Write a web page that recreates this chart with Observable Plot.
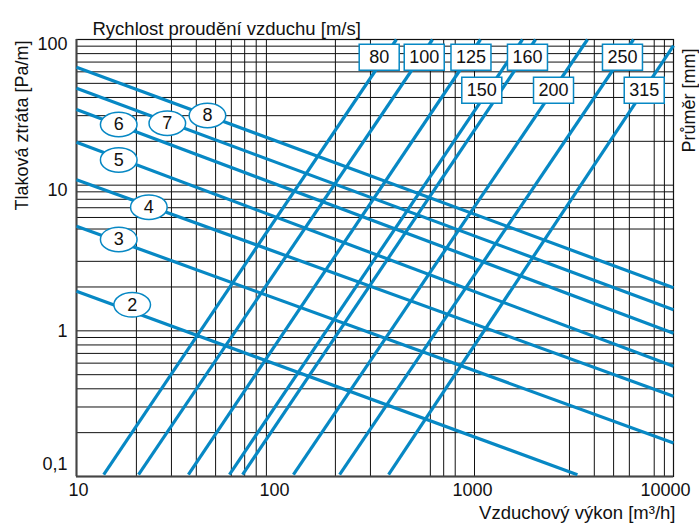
<!DOCTYPE html>
<html><head><meta charset="utf-8">
<script src="https://cdn.jsdelivr.net/npm/d3@7"></script>
<script src="https://cdn.jsdelivr.net/npm/@observablehq/plot@0.6"></script>
<style>html,body{margin:0;padding:0;background:#fff;}</style>
</head><body><div id="chart"></div>
<script>
// ---- data ----
const xGridValues = [20,30,40,50,60,70,80,90,200,300,600,700,800,1000,3000,4000,5000,6000,8000,9000];
const yGridValues = [0.2,0.3,0.4,0.5,0.6,0.7,0.8,0.9,1,2,3,5,6,7,8,9,10,20,30,40,50,60,70,80,90];
const xTickValues = [10,100,1000,10000];
const xTickLabels = ["10","100","1000","10000"];
const yTickValues = [100,10,1,0.1];
const yTickLabels = ["100","10","1","0,1"];

// duct diameter lines [mm]: start/end points (airflow m3/h, pressure loss Pa/m)
const diameters = [80,100,125,150,160,200,250,315];
const diaQ1 = [13.7,20.5,36.5,58.7,68.3,123,210,370];
const diaP1 = [0.103,0.103,0.103,0.103,0.103,0.103,0.103,0.103];
const diaQ2 = [405,615,1072,1742,2026,3697,6295,10000];
const diaP2 = [100,100,100,100,100,100,100,90.9];
const diaLabelQ = [332,559,960,1088,1846,2495,5541,7127];
const diaLabelP = [75.6,75.6,75.6,44.9,75.6,44.9,75.6,44.9];

// air velocity lines [m/s]
const velocities = [2,3,4,5,6,7,8];
const velQ1 = [10,10,10,10,10,10,10];
const velP1 = [1.87,5.23,10.9,19.7,33.1,46.3,64.5];
const velQ2 = [3290,10000,10000,10000,10000,10000,10000];
const velP2 = [0.103,0.170,0.356,0.572,0.963,1.394,1.974];
const velLabelQ = [19.05,16.3,23.1,16.3,16.3,28.6,45.5];
const velLabelP = [1.509,4.24,7.06,14.9,26.1,26.6,30.1];

// ---- tables ----
const diaRows = diameters.map((d,i)=>({d, q1:diaQ1[i], p1:diaP1[i], q2:diaQ2[i], p2:diaP2[i], lq:diaLabelQ[i], lp:diaLabelP[i]}));
const velRows = velocities.map((v,i)=>({v, q1:velQ1[i], p1:velP1[i], q2:velQ2[i], p2:velP2[i], lq:velLabelQ[i], lp:velLabelP[i]}));

const blue = "#0788c4";
const ink = "#111";
const ellipse = {draw(ctx){ const rx=18.3, ry=12.3, k=0.5523;
  ctx.moveTo(rx,0);
  ctx.bezierCurveTo(rx,k*ry,k*rx,ry,0,ry);
  ctx.bezierCurveTo(-k*rx,ry,-rx,k*ry,-rx,0);
  ctx.bezierCurveTo(-rx,-k*ry,-k*rx,-ry,0,-ry);
  ctx.bezierCurveTo(k*rx,-ry,rx,-k*ry,rx,0);
  ctx.closePath(); }};
const box = {draw(ctx){ ctx.rect(-20,-13,40,26); }};

const xDx = [2,-1,-2,-8];
const yDy = [5,5,0,-12];

const marks = [
  Plot.ruleX(xGridValues, {stroke:"#111", strokeWidth:1}),
  Plot.ruleY(yGridValues, {stroke:"#111", strokeWidth:1}),
  Plot.frame({stroke:"#111", strokeWidth:1.2}),
  Plot.ruleX([10], {stroke:"#444", strokeWidth:2}),
  Plot.ruleY([0.1], {stroke:"#444", strokeWidth:2}),
  Plot.link(diaRows, {x1:"q1", y1:"p1", x2:"q2", y2:"p2", stroke:blue, strokeWidth:3.2}),
  Plot.link(velRows, {x1:"q1", y1:"p1", x2:"q2", y2:"p2", stroke:blue, strokeWidth:3.2}),
  Plot.dot(diaRows, {x:"lq", y:"lp", symbol:box, r:5, fill:"white", stroke:blue, strokeWidth:1.5}),
  Plot.text(diaRows, {x:"lq", y:"lp", text:d=>String(d.d), fill:ink, fontSize:18}),
  Plot.dot(velRows, {x:"lq", y:"lp", symbol:ellipse, r:5, fill:"white", stroke:blue, strokeWidth:1.5}),
  Plot.text(velRows, {x:"lq", y:"lp", text:d=>String(d.v), fill:ink, fontSize:18}),
  ...xTickValues.map((v,i)=>Plot.text([v], {x:d=>d, text:()=>xTickLabels[i], frameAnchor:"bottom", dy:19, dx:xDx[i], fill:ink, fontSize:18})),
  ...yTickValues.map((v,i)=>Plot.text([v], {y:d=>d, text:()=>yTickLabels[i], frameAnchor:"left", textAnchor:"end", dx:-9, dy:yDy[i], fill:ink, fontSize:18})),
  Plot.text(["Rychlost proudění vzduchu [m/s]"], {frameAnchor:"top-left", textAnchor:"start", dx:16, dy:-18, fill:ink, fontSize:18.5}),
  Plot.text(["Vzduchový výkon [m³/h]"], {frameAnchor:"bottom-right", textAnchor:"end", dx:2, dy:42, fill:ink, fontSize:18.5}),
  Plot.text(["Tlaková ztráta [Pa/m]"], {frameAnchor:"top-left", rotate:-90, textAnchor:"middle", dx:-61, dy:86, fill:ink, fontSize:18}),
  Plot.text(["Průměr [mm]"], {frameAnchor:"top-right", rotate:-90, textAnchor:"middle", dx:9, dy:61, fill:ink, fontSize:18})
];

const chart = Plot.plot({
  width:699, height:527,
  marginLeft:76, marginRight:26, marginTop:39, marginBottom:51,
  x:{type:"log", domain:[10,10000], axis:null},
  y:{type:"log", domain:[0.1,100], axis:null},
  style:{fontFamily:"'Liberation Sans', Arial, sans-serif", fontSize:"18px", background:"white", color:ink},
  marks
});
document.getElementById("chart").appendChild(chart);
</script>
</body></html>
